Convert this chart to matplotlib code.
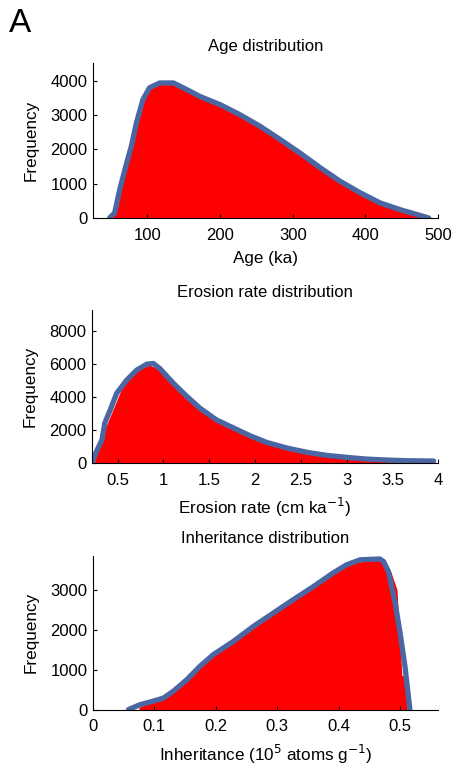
import matplotlib
matplotlib.use('Agg')
import matplotlib.pyplot as plt

plt.rcParams['font.family'] = ['Liberation Sans', 'DejaVu Sans']

RED = '#ff0000'
BLUE = '#4a67a3'

# --- Age distribution (ka) ---
age_bins = [50, 60, 70, 80, 90, 100, 110, 120, 130, 140, 150, 160, 170, 180, 190,
            200, 210, 220, 230, 240, 250, 260, 270, 280, 290, 300, 310, 320, 330,
            340, 350, 360, 370, 380, 390, 400, 410, 420, 430, 440, 450, 460, 470,
            480, 490]
age_counts = [80, 650, 1550, 2350, 3150, 3700, 3850, 3900, 3900, 3880, 3780, 3690,
              3600, 3480, 3380, 3280, 3180, 3070, 2960, 2850, 2720, 2590, 2450,
              2310, 2170, 2020, 1880, 1730, 1580, 1430, 1280, 1130, 990, 860, 740,
              630, 520, 430, 350, 270, 210, 150, 90, 45, 15]
age_curve_x = [48, 55, 62, 69, 78, 85, 94, 103, 117, 136, 154, 172, 200, 227, 255,
               283, 310, 338, 365, 393, 420, 448, 471, 487]
age_curve_y = [0, 145, 825, 1400, 2090, 2770, 3450, 3790, 3930, 3930, 3740, 3540,
               3300, 3010, 2670, 2280, 1890, 1460, 1070, 730, 440, 240, 100, 0]

# --- Erosion rate distribution (cm/ka) ---
ero_bins = [0.25, 0.35, 0.45, 0.55, 0.65, 0.75, 0.85, 0.95, 1.05, 1.15, 1.25, 1.35,
            1.45, 1.55, 1.65, 1.75, 1.85, 1.95, 2.05, 2.15, 2.25, 2.35, 2.45, 2.55,
            2.65, 2.75, 2.85, 2.95, 3.05, 3.15, 3.25, 3.35, 3.45, 3.55, 3.65, 3.75,
            3.85, 3.95]
ero_counts = [350, 1900, 3250, 4600, 5300, 5750, 5950, 5700, 5050, 4450, 3900, 3400,
              3000, 2620, 2290, 2040, 1800, 1560, 1330, 1140, 970, 830, 710, 600,
              510, 430, 360, 300, 250, 200, 160, 120, 90, 70, 55, 45, 35, 30]
ero_curve_x = [0.22, 0.27, 0.33, 0.36, 0.42, 0.49, 0.60, 0.71, 0.82, 0.89, 0.96,
               1.11, 1.26, 1.40, 1.58, 1.77, 1.95, 2.13, 2.35, 2.57, 2.79, 3.01,
               3.22, 3.44, 3.66, 3.95]
ero_curve_y = [0, 705, 1410, 2420, 3230, 4230, 5040, 5650, 6010, 6050, 5750, 4840,
               4030, 3330, 2620, 2120, 1650, 1250, 910, 650, 460, 340, 240, 180,
               140, 120]

# --- Inheritance distribution (10^5 atoms/g) ---
inh_bins = [0.075, 0.085, 0.095, 0.105, 0.115, 0.125, 0.135, 0.145, 0.155, 0.165,
            0.175, 0.185, 0.195, 0.205, 0.215, 0.225, 0.235, 0.245, 0.255, 0.265,
            0.275, 0.285, 0.295, 0.305, 0.315, 0.325, 0.335, 0.345, 0.355, 0.365,
            0.375, 0.385, 0.395, 0.405, 0.415, 0.425, 0.435, 0.445, 0.455, 0.465,
            0.475, 0.485, 0.495, 0.503, 0.511]
inh_counts = [60, 120, 170, 220, 280, 370, 480, 610, 750, 900, 1060, 1200, 1330,
              1440, 1550, 1660, 1770, 1880, 1990, 2100, 2210, 2320, 2420, 2520, 2620,
              2730, 2830, 2930, 3040, 3140, 3250, 3360, 3440, 3530, 3610, 3660, 3700,
              3720, 3740, 3750, 3680, 3450, 3000, 850, 850]
inh_curve_x = [0.058, 0.077, 0.098, 0.115, 0.131, 0.153, 0.174, 0.196, 0.229, 0.261,
               0.294, 0.326, 0.359, 0.391, 0.413, 0.435, 0.467, 0.473, 0.481, 0.492,
               0.500, 0.508, 0.516]
inh_curve_y = [0, 125, 210, 290, 460, 750, 1080, 1375, 1710, 2080, 2420, 2750, 3080,
               3420, 3625, 3750, 3770, 3710, 3460, 2670, 1920, 1080, 0]

panels = [
    dict(bins=age_bins, counts=age_counts, cx=age_curve_x, cy=age_curve_y,
         title='Age distribution', xlabel='Age (ka)', xlim=(25, 500), ylim=(0, 4500),
         xticks=[100, 200, 300, 400, 500], yticks=[0, 1000, 2000, 3000, 4000],
         rect=[0.204, 0.718, 0.759, 0.200]),
    dict(bins=ero_bins, counts=ero_counts, cx=ero_curve_x, cy=ero_curve_y,
         title='Erosion rate distribution', xlabel='Erosion rate (cm ka$^{-1}$)',
         xlim=(0.22, 4.0), ylim=(0, 9300),
         xticks=[0.5, 1, 1.5, 2, 2.5, 3, 3.5, 4], yticks=[0, 2000, 4000, 6000, 8000],
         rect=[0.202, 0.401, 0.761, 0.198]),
    dict(bins=inh_bins, counts=inh_counts, cx=inh_curve_x, cy=inh_curve_y,
         title='Inheritance distribution',
         xlabel='Inheritance (10$^{5}$ atoms g$^{-1}$)',
         xlim=(0, 0.562), ylim=(0, 3850),
         xticks=[0, 0.1, 0.2, 0.3, 0.4, 0.5], yticks=[0, 1000, 2000, 3000],
         rect=[0.204, 0.082, 0.759, 0.199]),
]

fig = plt.figure(figsize=(4.55, 7.73), dpi=100)

for p in panels:
    ax = fig.add_axes(p['rect'])
    # histogram drawn as a filled area (fine bins in the original)
    ax.fill_between(p['bins'], p['counts'], 0, color=RED, linewidth=0)
    ax.plot(p['cx'], p['cy'], color=BLUE, linewidth=3.8, solid_capstyle='round',
            solid_joinstyle='round')
    ax.set_xlim(*p['xlim'])
    ax.set_ylim(*p['ylim'])
    ax.set_xticks(p['xticks'])
    ax.set_xticklabels(['%g' % v for v in p['xticks']])
    ax.set_yticks(p['yticks'])
    ax.spines['top'].set_visible(False)
    ax.spines['right'].set_visible(False)
    ax.tick_params(direction='in', length=3, labelsize=12, width=0.8)
    ax.tick_params(axis='x', pad=7)
    ax.tick_params(axis='y', pad=4)
    ax.set_title(p['title'], fontsize=12, pad=9)
    ax.set_xlabel(p['xlabel'], fontsize=12.3, labelpad=6)
    ax.set_ylabel('Frequency', fontsize=12.3, labelpad=8)

fig.text(0.02, 0.958, 'A', fontsize=24, ha='left', va='baseline')

fig.savefig('out.png', dpi=100)
